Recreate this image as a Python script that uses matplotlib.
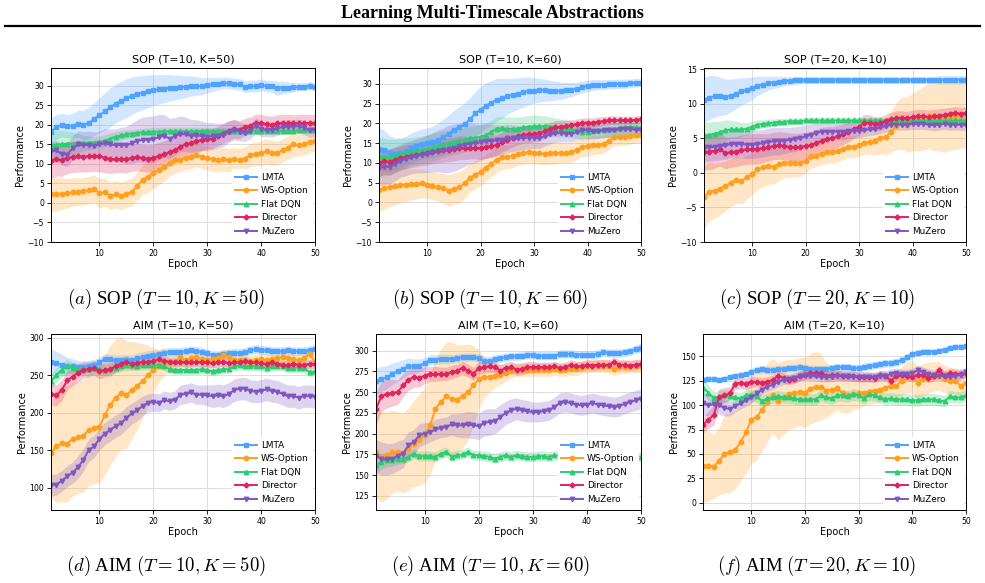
import numpy as np
import matplotlib
matplotlib.use("Agg")
import matplotlib.pyplot as plt
from matplotlib.lines import Line2D

plt.rcParams['mathtext.fontset'] = 'cm'

epochs = np.arange(1, 51)
methods = ["LMTA", "WS-Option", "Flat DQN", "Director", "MuZero"]
colors = ["#4da3ff", "#ff9f1c", "#2ecc71", "#e0245e", "#7e57c2"]
markers = ["s", "o", "^", "P", "v"]

# ---- SOP (T=10, K=50)
a_lmta = [18.3, 19.5, 20.0, 19.7, 19.8, 20.3, 20.0, 20.5, 21.5, 22.5,
          23.5, 24.5, 25.5, 26.2, 26.8, 27.5, 28.0, 28.3, 28.6, 28.9,
          29.1, 29.3, 29.5, 29.6, 29.7, 29.8, 30.0, 30.0, 29.9, 30.2,
          30.4, 30.6, 30.8, 30.7, 30.5, 30.4, 29.8, 30.0, 30.0, 30.3,
          30.0, 29.9, 29.4, 29.6, 29.6, 29.7, 29.8, 29.8, 30.1, 29.8]
a_lmta_sd = [3.5, 3.2, 3.0, 3.0, 3.2, 3.5, 3.8, 4.0, 4.3, 4.5,
             4.8, 5.0, 5.0, 5.0, 5.0, 4.8, 4.6, 4.4, 4.2, 4.0,
             3.8, 3.6, 3.4, 3.2, 3.0, 2.8, 2.6, 2.4, 2.2, 2.0,
             1.8, 1.6, 1.5, 1.5, 1.5, 1.5, 1.5, 1.5, 1.5, 1.5,
             1.5, 1.6, 1.8, 1.6, 1.4, 1.2, 1.0, 1.0, 1.0, 1.0]
a_ws = [2.2, 2.3, 2.4, 2.5, 2.8, 2.9, 3.0, 3.3, 3.7, 2.5,
        2.8, 1.8, 2.2, 1.8, 2.4, 2.8, 4.3, 6.0, 6.6, 7.8,
        8.4, 9.2, 10.3, 10.9, 11.0, 11.6, 11.8, 12.2, 11.8, 11.5,
        11.2, 11.0, 11.2, 11.0, 11.2, 11.0, 11.4, 12.3, 12.6, 12.7,
        13.2, 12.8, 12.8, 13.5, 14.2, 15.0, 14.8, 15.2, 15.7, 16.0]
a_ws_sd = [4.5, 4.3, 4.0, 3.8, 3.6, 3.5, 3.5, 3.5, 3.5, 3.8,
           3.6, 3.5, 3.5, 3.5, 3.5, 3.5, 3.6, 3.8, 4.0, 4.0,
           3.8, 3.6, 3.4, 3.2, 3.0, 3.0, 3.0, 3.0, 3.0, 3.0,
           3.0, 3.0, 3.0, 3.0, 3.0, 3.0, 3.0, 3.0, 3.0, 3.2,
           3.2, 3.2, 3.0, 3.0, 3.0, 3.0, 2.8, 2.8, 2.8, 2.8]
a_dqn = [14.6, 14.9, 15.1, 15.2, 15.2, 15.3, 15.4, 15.4, 15.5, 15.7,
         16.0, 16.5, 17.0, 17.3, 17.6, 17.8, 18.0, 18.1, 18.2, 18.3,
         18.3, 18.4, 18.4, 18.4, 18.4, 18.4, 18.4, 18.4, 18.4, 18.4,
         18.4, 18.4, 18.4, 18.4, 18.5, 18.5, 18.5, 18.5, 18.5, 18.5,
         18.5, 18.5, 18.5, 18.5, 18.5, 18.5, 18.6, 18.6, 18.6, 18.6]
a_dqn_sd = [3.5, 3.5, 3.5, 3.2, 3.0, 2.5, 2.0, 1.8, 1.5, 1.5,
            1.5, 1.4, 1.3, 1.2, 1.1, 1.0, 1.0, 1.0, 1.0, 1.0,
            1.0, 1.0, 1.0, 1.0, 1.0, 1.0, 1.0, 1.0, 1.0, 1.0,
            0.9, 0.9, 0.9, 0.9, 0.9, 0.9, 0.9, 0.9, 0.9, 0.9,
            0.8, 0.8, 0.8, 0.8, 0.8, 0.8, 0.8, 0.8, 0.8, 0.8]
a_dir = [10.8, 11.2, 11.0, 11.5, 11.8, 12.0, 11.9, 12.0, 12.1, 12.0,
         11.6, 11.2, 11.2, 11.3, 11.2, 11.6, 11.8, 11.5, 11.4, 11.6,
         12.0, 12.5, 13.0, 13.5, 14.4, 15.0, 15.4, 15.8, 16.2, 16.5,
         16.5, 17.2, 17.8, 18.5, 19.0, 18.8, 19.5, 19.8, 20.6, 20.5,
         20.2, 20.0, 20.4, 20.5, 20.5, 20.4, 20.5, 20.5, 20.5, 20.6]
a_dir_sd = [4.5, 4.3, 4.2, 4.0, 4.0, 4.0, 4.0, 4.0, 4.0, 4.0,
            3.8, 3.6, 3.5, 3.5, 3.5, 3.5, 3.5, 3.5, 3.5, 3.5,
            3.5, 3.5, 3.4, 3.3, 3.2, 3.0, 3.0, 3.0, 2.8, 2.6,
            2.5, 2.5, 2.5, 2.5, 2.4, 2.3, 2.2, 2.2, 2.2, 2.2,
            2.2, 2.2, 2.2, 2.2, 2.2, 2.2, 2.2, 2.2, 2.2, 2.2]
a_muz = [13.2, 13.5, 12.5, 12.4, 14.0, 15.0, 14.8, 14.9, 14.7, 15.0,
         15.3, 15.0, 14.8, 14.9, 14.8, 15.3, 15.9, 16.2, 16.2, 16.3,
         16.9, 17.2, 16.5, 17.1, 17.7, 17.6, 17.2, 17.3, 17.2, 17.0,
         17.2, 17.2, 17.5, 18.3, 18.8, 18.3, 18.0, 18.5, 19.8, 19.0,
         18.8, 18.7, 19.1, 19.5, 19.5, 19.6, 19.7, 19.3, 18.6, 18.8]
a_muz_sd = [2.5, 2.5, 2.8, 3.0, 3.2, 3.5, 3.5, 3.5, 3.5, 3.5,
            3.8, 4.0, 4.2, 4.5, 4.8, 5.2, 5.5, 5.8, 6.0, 6.0,
            5.8, 5.5, 5.2, 4.8, 4.6, 4.4, 4.2, 4.0, 3.8, 3.6,
            3.4, 3.2, 3.0, 2.8, 2.6, 2.4, 2.2, 2.0, 2.0, 2.0,
            1.8, 1.8, 1.8, 1.8, 1.8, 1.8, 1.8, 1.8, 1.8, 1.8]

# ---- SOP (T=10, K=60)
b_lmta = [13.5, 13.2, 12.4, 12.3, 12.5, 13.0, 13.8, 14.3, 14.8, 15.0,
          15.3, 15.8, 16.5, 17.3, 18.3, 19.0, 19.8, 21.0, 22.5, 23.5,
          24.5, 25.2, 26.0, 26.3, 26.8, 27.2, 27.5, 27.9, 28.2, 28.3,
          28.4, 28.4, 28.3, 28.3, 28.2, 28.4, 28.5, 28.8, 29.2, 29.5,
          29.7, 29.8, 29.8, 29.9, 29.9, 30.0, 30.0, 30.1, 30.3, 30.3]
b_lmta_sd = [5.5, 5.0, 4.5, 4.0, 3.8, 3.8, 3.8, 3.8, 3.8, 3.8,
             4.0, 4.2, 4.5, 4.8, 5.0, 5.2, 5.5, 5.5, 5.6, 5.8,
             5.8, 5.6, 5.4, 5.0, 4.6, 4.2, 4.0, 3.8, 3.5, 3.2,
             3.0, 2.8, 2.6, 2.4, 2.2, 2.0, 1.8, 1.6, 1.5, 1.5,
             1.4, 1.3, 1.3, 1.2, 1.2, 1.2, 1.2, 1.1, 1.1, 1.0]
b_ws = [3.2, 3.6, 3.9, 4.2, 4.4, 4.5, 4.6, 4.7, 4.9, 4.5,
        4.2, 3.9, 3.6, 3.0, 3.5, 3.8, 4.8, 6.2, 7.0, 7.8,
        8.8, 9.8, 10.8, 11.4, 11.5, 11.8, 12.2, 12.4, 12.8, 12.5,
        12.4, 12.3, 12.4, 12.5, 12.6, 12.5, 12.7, 13.3, 14.0, 14.2,
        14.5, 14.5, 14.8, 15.6, 16.5, 16.6, 16.6, 16.8, 17.0, 17.1]
b_ws_sd = [5.5, 5.3, 5.0, 4.8, 4.5, 4.3, 4.0, 3.8, 3.6, 3.5,
           3.5, 3.6, 3.8, 4.0, 4.0, 4.0, 3.8, 3.6, 3.5, 3.5,
           3.4, 3.3, 3.2, 3.0, 3.0, 3.0, 2.8, 2.8, 2.8, 2.8,
           2.8, 2.8, 2.8, 2.8, 2.6, 2.6, 2.5, 2.5, 2.4, 2.4,
           2.4, 2.3, 2.3, 2.2, 2.2, 2.2, 2.1, 2.0, 2.0, 2.0]
b_dqn = [11.5, 11.5, 11.5, 11.8, 12.2, 12.5, 12.8, 13.1, 13.3, 13.5,
         14.0, 14.3, 14.8, 15.0, 15.4, 15.5, 15.8, 16.2, 16.4, 16.6,
         17.0, 17.8, 18.7, 18.8, 18.6, 18.6, 18.7, 19.0, 19.2, 19.3,
         19.3, 19.3, 19.2, 19.0, 18.8, 18.7, 18.5, 18.2, 17.8, 17.9,
         18.0, 18.2, 18.3, 18.5, 18.6, 18.8, 19.0, 19.1, 19.0, 18.9]
b_dqn_sd = [5.0, 4.8, 4.5, 4.2, 4.0, 3.8, 3.6, 3.5, 3.5, 3.5,
            3.5, 3.5, 3.4, 3.3, 3.2, 3.2, 3.1, 3.0, 3.0, 3.0,
            3.0, 3.0, 3.0, 3.0, 3.0, 3.0, 2.9, 2.8, 2.8, 2.8,
            2.7, 2.6, 2.5, 2.4, 2.3, 2.2, 2.1, 2.0, 2.0, 2.0,
            2.0, 2.0, 1.9, 1.9, 1.9, 1.8, 1.8, 1.8, 1.8, 1.8]
b_dir = [10.0, 10.5, 10.2, 10.7, 11.2, 11.6, 11.8, 12.0, 12.3, 12.5,
         12.8, 13.0, 13.2, 13.3, 13.5, 13.8, 13.8, 13.8, 13.8, 13.7,
         14.0, 14.3, 14.5, 15.3, 15.8, 16.3, 16.8, 17.1, 17.2, 17.4,
         17.5, 18.0, 18.5, 19.0, 19.2, 19.3, 19.5, 19.8, 20.2, 20.2,
         20.2, 20.4, 20.6, 20.8, 20.8, 20.8, 20.8, 20.8, 20.9, 21.0]
b_dir_sd = [3.5, 3.4, 3.3, 3.2, 3.0, 3.0, 3.0, 3.0, 3.0, 3.0,
            3.0, 3.0, 3.0, 3.0, 3.0, 3.0, 3.0, 2.8, 2.8, 2.8,
            2.8, 2.7, 2.6, 2.5, 2.4, 2.3, 2.2, 2.1, 2.0, 2.0,
            2.0, 1.9, 1.8, 1.7, 1.6, 1.5, 1.4, 1.3, 1.2, 1.2,
            1.2, 1.2, 1.1, 1.1, 1.1, 1.0, 1.0, 1.0, 1.0, 1.0]
b_muz = [8.8, 9.0, 9.0, 9.8, 10.5, 11.0, 11.4, 11.8, 12.0, 12.3,
         12.7, 13.0, 13.2, 13.5, 13.8, 14.2, 14.6, 14.9, 15.0, 15.2,
         15.5, 15.6, 15.7, 15.8, 16.2, 16.2, 16.3, 16.3, 16.4, 16.4,
         16.2, 16.8, 17.2, 17.5, 17.5, 17.4, 17.3, 17.8, 18.3, 18.3,
         18.0, 18.0, 18.2, 18.2, 18.3, 18.5, 18.7, 18.6, 18.4, 18.3]
b_muz_sd = [4.5, 4.5, 4.4, 4.3, 4.2, 4.2, 4.2, 4.3, 4.5, 4.7,
            5.0, 5.3, 5.6, 6.0, 6.0, 5.8, 5.5, 5.2, 4.9, 4.6,
            4.4, 4.2, 4.0, 3.8, 3.6, 3.4, 3.2, 3.0, 2.8, 2.7,
            2.6, 2.5, 2.4, 2.3, 2.2, 2.1, 2.0, 2.0, 2.0, 2.0,
            1.8, 1.8, 1.8, 1.8, 1.8, 1.8, 1.8, 1.8, 1.8, 1.8]

# ---- SOP (T=20, K=10)
c_lmta = [10.6, 10.9, 11.1, 11.1, 11.0, 11.2, 11.5, 11.8, 12.0, 12.3,
          12.6, 12.8, 13.0, 13.1, 13.2, 13.3, 13.35, 13.4, 13.45, 13.45,
          13.45, 13.45, 13.45, 13.45, 13.45, 13.45, 13.45, 13.45, 13.45, 13.45,
          13.45, 13.45, 13.45, 13.45, 13.45, 13.45, 13.45, 13.45, 13.45, 13.45,
          13.45, 13.45, 13.45, 13.45, 13.5, 13.5, 13.5, 13.5, 13.5, 13.5]
c_lmta_sd = [3.3, 3.2, 3.0, 2.8, 2.6, 2.4, 2.2, 2.0, 1.8, 1.6,
             1.4, 1.2, 1.0, 0.9, 0.8, 0.7, 0.6, 0.6, 0.5, 0.5,
             0.5, 0.5, 0.5, 0.5, 0.5, 0.5, 0.5, 0.5, 0.5, 0.5,
             0.5, 0.5, 0.5, 0.5, 0.5, 0.5, 0.5, 0.5, 0.5, 0.5,
             0.5, 0.5, 0.5, 0.5, 0.6, 0.6, 0.6, 0.6, 0.6, 0.6]
c_ws = [-3.5, -2.7, -2.6, -2.3, -1.9, -1.4, -1.0, -1.2, -0.6, -0.2,
        0.6, 0.8, 1.0, 0.9, 1.3, 1.5, 1.5, 1.5, 1.4, 1.8,
        2.4, 2.5, 2.8, 3.0, 3.0, 3.2, 3.5, 3.8, 3.8, 4.0,
        4.4, 4.5, 4.6, 5.1, 5.2, 6.0, 6.8, 7.2, 7.0, 7.4,
        7.6, 7.9, 8.3, 8.2, 8.2, 8.0, 8.2, 8.3, 8.4, 8.2]
c_ws_sd = [4.5, 4.2, 4.0, 3.8, 3.6, 3.5, 3.4, 3.3, 3.2, 3.0,
           3.0, 2.8, 2.6, 2.5, 2.4, 2.2, 2.1, 2.0, 1.9, 1.8,
           1.7, 1.6, 1.6, 1.6, 1.6, 1.6, 1.6, 1.6, 1.6, 1.6,
           1.7, 1.8, 2.0, 2.3, 2.6, 3.0, 3.4, 3.8, 4.0, 4.2,
           4.4, 4.6, 4.8, 5.0, 5.0, 5.0, 4.9, 4.9, 4.8, 4.7]
c_dqn = [5.3, 5.5, 5.7, 5.9, 6.2, 6.3, 6.3, 6.3, 6.4, 6.7,
         7.0, 7.1, 7.2, 7.3, 7.4, 7.4, 7.5, 7.5, 7.5, 7.6,
         7.6, 7.6, 7.6, 7.6, 7.6, 7.6, 7.6, 7.6, 7.6, 7.6,
         7.6, 7.6, 7.6, 7.6, 7.6, 7.6, 7.6, 7.6, 7.6, 7.6,
         7.6, 7.6, 7.6, 7.6, 7.6, 7.6, 7.6, 7.6, 7.6, 7.6]
c_dqn_sd = [2.0, 1.9, 1.8, 1.6, 1.5, 1.3, 1.2, 1.0, 0.9, 0.8,
            0.7, 0.6, 0.6, 0.5, 0.5, 0.5, 0.5, 0.5, 0.5, 0.5,
            0.5, 0.5, 0.5, 0.5, 0.5, 0.5, 0.5, 0.5, 0.5, 0.5,
            0.4, 0.4, 0.4, 0.4, 0.4, 0.4, 0.4, 0.4, 0.4, 0.4,
            0.4, 0.4, 0.4, 0.4, 0.4, 0.4, 0.4, 0.4, 0.4, 0.4]
c_dir = [3.1, 3.1, 3.2, 3.4, 2.9, 3.0, 3.1, 3.3, 3.4, 3.5,
         3.5, 3.6, 3.7, 3.9, 4.0, 3.9, 3.8, 3.7, 3.8, 3.9,
         4.0, 4.3, 4.7, 4.9, 5.0, 5.3, 5.6, 5.9, 6.3, 6.7,
         7.3, 7.3, 7.1, 7.2, 7.5, 7.8, 8.0, 8.0, 7.9, 8.1,
         8.2, 8.2, 8.1, 8.2, 8.3, 8.4, 8.6, 8.7, 8.6, 8.7]
c_dir_sd = [2.7, 2.6, 2.5, 2.4, 2.3, 2.2, 2.2, 2.2, 2.2, 2.2,
            2.2, 2.1, 2.0, 2.0, 2.0, 2.0, 2.0, 2.0, 2.0, 2.0,
            2.0, 2.0, 1.9, 1.8, 1.7, 1.6, 1.5, 1.4, 1.3, 1.2,
            1.2, 1.1, 1.0, 1.0, 1.0, 1.0, 1.0, 1.0, 1.0, 1.0,
            1.0, 1.0, 1.0, 1.0, 1.0, 1.0, 0.9, 0.9, 0.9, 0.9]
c_muz = [3.7, 3.7, 3.8, 3.9, 4.0, 4.2, 4.2, 4.2, 4.1, 4.1,
         4.2, 4.3, 4.5, 4.6, 4.6, 4.7, 4.8, 4.9, 5.1, 5.3,
         5.5, 5.8, 6.0, 6.0, 6.0, 6.0, 6.0, 6.1, 6.1, 6.1,
         6.2, 6.3, 6.4, 6.6, 6.8, 7.0, 7.0, 7.0, 7.0, 7.1,
         7.1, 7.1, 7.0, 6.9, 7.0, 7.1, 7.0, 7.0, 7.0, 6.9]
c_muz_sd = [2.0, 2.0, 2.0, 2.0, 2.0, 2.0, 2.0, 2.0, 2.0, 2.0,
            2.0, 2.0, 2.0, 2.0, 2.0, 1.9, 1.8, 1.8, 1.7, 1.7,
            1.6, 1.5, 1.5, 1.4, 1.3, 1.2, 1.2, 1.1, 1.0, 1.0,
            0.9, 0.9, 0.9, 0.9, 0.9, 0.9, 0.8, 0.8, 0.8, 0.8,
            0.8, 0.8, 0.8, 0.8, 0.8, 0.8, 0.8, 0.8, 0.8, 0.8]

# ---- AIM (T=10, K=50)
d_lmta = [268, 266, 264, 262, 262, 261, 261, 262, 263, 267,
          272, 271, 270, 270, 270, 270, 273, 274, 276, 277,
          278, 280, 281, 281, 281, 282, 283, 282, 281, 279,
          277, 277, 278, 279, 280, 280, 281, 283, 285, 284,
          283, 282, 282, 282, 283, 282, 282, 282, 283, 285]
d_lmta_sd = [18, 16, 14, 12, 10, 9, 8, 8, 8, 8,
             7, 7, 7, 7, 7, 7, 7, 7, 7, 7,
             6, 6, 6, 6, 6, 6, 6, 6, 6, 6,
             6, 6, 6, 6, 6, 6, 6, 6, 6, 6,
             6, 6, 6, 6, 6, 6, 6, 6, 6, 6]
d_ws = [146, 155, 159, 158, 165, 167, 169, 177, 180, 181,
        197, 210, 220, 226, 224, 230, 236, 242, 250, 257,
        262, 268, 268, 267, 274, 270, 273, 274, 272, 270,
        271, 273, 277, 274, 270, 270, 270, 268, 270, 271,
        270, 271, 273, 274, 273, 271, 270, 273, 278, 268]
d_ws_sd = [60, 75, 78, 78, 76, 75, 75, 75, 75, 75,
           80, 80, 78, 75, 72, 65, 58, 50, 40, 30,
           22, 18, 15, 12, 10, 10, 10, 9, 9, 9,
           8, 8, 8, 8, 8, 8, 8, 8, 8, 8,
           8, 8, 8, 8, 8, 8, 8, 8, 8, 8]
d_dqn = [242, 250, 257, 262, 260, 258, 257, 258, 260, 258,
         257, 258, 260, 262, 263, 263, 262, 263, 263, 263,
         264, 262, 258, 257, 257, 257, 257, 257, 258, 257,
         255, 257, 258, 258, 262, 263, 262, 262, 262, 262,
         259, 262, 262, 262, 259, 260, 260, 259, 254, 255]
d_dqn_sd = [10, 10, 10, 9, 8, 8, 8, 8, 8, 8,
            7, 7, 7, 7, 7, 6, 6, 6, 6, 6,
            6, 6, 6, 6, 6, 6, 6, 6, 6, 6,
            6, 6, 6, 6, 6, 6, 6, 6, 6, 6,
            6, 6, 6, 6, 6, 6, 6, 6, 6, 6]
d_dir = [225, 223, 230, 243, 248, 253, 257, 258, 260, 255,
         257, 258, 262, 265, 268, 265, 266, 268, 268, 269,
         271, 269, 268, 268, 268, 267, 267, 268, 267, 267,
         266, 267, 268, 266, 267, 267, 269, 267, 267, 266,
         265, 267, 265, 264, 263, 265, 264, 264, 265, 265]
d_dir_sd = [15, 14, 14, 13, 12, 12, 11, 10, 10, 10,
            9, 9, 8, 8, 8, 8, 8, 7, 7, 7,
            6, 6, 6, 6, 6, 6, 6, 6, 6, 6,
            6, 6, 6, 6, 6, 6, 6, 6, 6, 6,
            6, 6, 6, 6, 6, 6, 6, 6, 6, 6]
d_muz = [103, 104, 109, 115, 120, 127, 137, 150, 155, 165,
         172, 177, 182, 186, 193, 199, 203, 209, 213, 214,
         213, 217, 215, 217, 224, 225, 227, 224, 224, 223,
         222, 223, 222, 225, 230, 232, 232, 229, 228, 229,
         231, 229, 228, 225, 222, 222, 220, 222, 222, 221]
d_muz_sd = [15, 14, 14, 14, 14, 15, 15, 15, 15, 15,
            15, 15, 15, 15, 15, 14, 14, 13, 12, 12,
            12, 12, 12, 12, 13, 13, 13, 13, 13, 14,
            15, 15, 15, 15, 15, 15, 15, 15, 15, 15,
            15, 15, 15, 15, 15, 15, 15, 15, 15, 15]

# ---- AIM (T=10, K=60)
e_lmta = [263, 266, 268, 272, 275, 278, 281, 281, 282, 285,
          289, 289, 290, 290, 290, 291, 292, 292, 292, 291,
          288, 288, 290, 291, 292, 293, 293, 294, 295, 295,
          294, 294, 294, 294, 296, 296, 296, 295, 295, 295,
          295, 296, 298, 297, 297, 297, 298, 299, 302, 303]
e_lmta_sd = [16, 15, 14, 13, 12, 11, 10, 9, 8, 7,
             6, 6, 6, 6, 5, 5, 5, 5, 5, 5,
             5, 5, 5, 5, 5, 5, 5, 5, 5, 5,
             5, 5, 5, 5, 5, 5, 5, 5, 5, 5,
             5, 5, 5, 5, 5, 5, 5, 5, 5, 6]
e_ws = [178, 172, 174, 178, 178, 177, 181, 188, 192, 198,
        210, 230, 238, 245, 242, 241, 245, 250, 258, 266,
        268, 268, 270, 271, 273, 276, 277, 277, 277, 277,
        277, 277, 277, 278, 277, 277, 278, 278, 280, 281,
        282, 282, 282, 281, 278, 280, 280, 281, 281, 281]
e_ws_sd = [55, 55, 52, 50, 48, 48, 50, 52, 55, 57,
           60, 62, 64, 66, 68, 66, 62, 58, 48, 35,
           25, 18, 14, 12, 10, 9, 8, 8, 8, 8,
           8, 8, 8, 8, 8, 8, 8, 8, 8, 8,
           8, 8, 8, 8, 8, 8, 8, 8, 8, 8]
e_dqn = [162, 166, 168, 168, 170, 170, 172, 176, 173, 173,
         173, 172, 176, 178, 172, 174, 175, 178, 174, 174,
         173, 172, 170, 172, 174, 172, 174, 173, 172, 172,
         173, 173, 172, 174, 173, 176, 173, 173, 173, 173,
         174, 175, 173, 173, 174, 173, 174, 172, 172, 172]
e_dqn_sd = [10, 9, 8, 7, 7, 6, 6, 6, 6, 6,
            6, 6, 6, 6, 6, 6, 6, 6, 6, 6,
            6, 6, 6, 6, 6, 6, 6, 6, 6, 6,
            6, 6, 6, 6, 6, 6, 6, 6, 6, 6,
            6, 6, 6, 6, 6, 6, 6, 6, 6, 6]
e_dir = [230, 245, 248, 249, 250, 258, 265, 268, 267, 270,
         272, 272, 272, 272, 274, 276, 279, 276, 272, 279,
         280, 281, 280, 276, 279, 280, 277, 278, 280, 280,
         280, 280, 280, 281, 279, 280, 283, 281, 281, 283,
         282, 283, 283, 283, 286, 283, 283, 282, 283, 284]
e_dir_sd = [20, 18, 17, 16, 15, 14, 13, 12, 11, 10,
            9, 9, 8, 8, 8, 8, 8, 8, 8, 8,
            7, 7, 7, 7, 7, 7, 7, 7, 7, 7,
            6, 6, 6, 6, 6, 6, 6, 6, 6, 6,
            6, 6, 6, 6, 6, 6, 6, 6, 6, 6]
e_muz = [173, 170, 169, 170, 173, 176, 186, 190, 198, 200,
         202, 205, 207, 208, 211, 210, 210, 211, 210, 209,
         213, 214, 215, 220, 225, 228, 230, 228, 227, 226,
         226, 227, 228, 232, 237, 238, 237, 235, 234, 235,
         237, 235, 234, 233, 232, 233, 236, 238, 240, 242]
e_muz_sd = [20, 20, 19, 18, 18, 17, 16, 15, 14, 13,
            12, 12, 12, 12, 13, 14, 15, 16, 16, 16,
            16, 16, 15, 15, 14, 14, 13, 13, 13, 12,
            12, 12, 12, 12, 12, 12, 12, 12, 12, 12,
            12, 12, 12, 12, 12, 12, 12, 12, 12, 12]

# ---- AIM (T=20, K=10)
f_lmta = [126, 127, 127, 126, 127, 129, 130, 131, 132, 134,
          136, 137, 136, 136, 137, 137, 138, 138, 139, 138,
          137, 137, 137, 137, 138, 139, 139, 139, 138, 138,
          139, 140, 141, 142, 143, 143, 144, 146, 149, 152,
          154, 155, 155, 155, 156, 157, 159, 160, 160, 161]
f_lmta_sd = [3, 3, 3, 3, 3, 3, 3, 3, 3, 4,
             4, 4, 4, 4, 4, 4, 4, 4, 4, 4,
             4, 4, 4, 4, 4, 4, 4, 4, 4, 4,
             4, 4, 4, 4, 4, 4, 4, 4, 4, 4,
             3, 3, 3, 3, 3, 3, 3, 3, 3, 3]
f_ws = [38, 38, 37, 43, 50, 52, 54, 62, 72, 85,
        88, 95, 103, 110, 104, 108, 111, 112, 114, 113,
        117, 119, 119, 115, 116, 118, 112, 110, 111, 112,
        113, 114, 115, 116, 118, 120, 120, 125, 129, 129,
        123, 127, 128, 130, 130, 127, 125, 125, 120, 123]
f_ws_sd = [38, 36, 33, 35, 40, 42, 40, 40, 42, 45,
           44, 42, 40, 38, 40, 38, 36, 35, 35, 36,
           36, 36, 34, 28, 25, 23, 20, 18, 16, 15,
           14, 13, 13, 13, 13, 13, 14, 15, 16, 17,
           17, 16, 16, 15, 15, 14, 14, 13, 13, 13]
f_dqn = [118, 113, 107, 108, 110, 109, 108, 107, 110, 110,
         109, 104, 107, 108, 109, 108, 108, 107, 106, 106,
         106, 106, 110, 108, 107, 110, 110, 109, 111, 110,
         107, 111, 110, 108, 106, 107, 106, 106, 106, 105,
         105, 106, 106, 106, 105, 104, 109, 108, 108, 110]
f_dqn_sd = [8, 8, 7, 7, 6, 6, 6, 6, 6, 6,
            6, 6, 6, 6, 6, 6, 6, 6, 6, 6,
            6, 6, 6, 6, 6, 6, 6, 6, 6, 6,
            6, 6, 6, 6, 6, 6, 6, 6, 6, 6,
            6, 6, 6, 6, 6, 6, 6, 6, 6, 6]
f_dir = [80, 85, 90, 108, 110, 112, 122, 123, 122, 124,
         124, 123, 124, 126, 130, 128, 126, 127, 130, 131,
         133, 133, 133, 130, 131, 131, 130, 130, 130, 129,
         129, 129, 128, 131, 130, 125, 130, 131, 130, 129,
         131, 131, 128, 130, 136, 130, 133, 132, 132, 133]
f_dir_sd = [8, 9, 10, 9, 8, 7, 6, 6, 6, 6,
            5, 5, 5, 5, 5, 5, 5, 5, 5, 5,
            5, 5, 5, 5, 5, 5, 5, 5, 5, 5,
            5, 5, 5, 5, 5, 5, 5, 5, 5, 5,
            5, 5, 5, 5, 5, 5, 5, 5, 5, 5]
f_muz = [102, 100, 101, 100, 97, 96, 99, 102, 105, 108,
         112, 116, 119, 121, 124, 126, 127, 128, 130, 131,
         130, 130, 129, 129, 129, 130, 130, 130, 129, 129,
         129, 129, 129, 130, 130, 132, 133, 132, 132, 133,
         136, 134, 132, 131, 130, 130, 129, 130, 131, 134]
f_muz_sd = [12, 11, 10, 9, 8, 7, 6, 6, 6, 6,
            5, 5, 5, 5, 5, 5, 5, 5, 5, 5,
            5, 5, 5, 5, 5, 5, 5, 5, 5, 5,
            5, 5, 5, 5, 5, 5, 5, 5, 5, 5,
            5, 5, 5, 5, 5, 5, 5, 5, 5, 5]

titles = ["SOP (T=10, K=50)", "SOP (T=10, K=60)", "SOP (T=20, K=10)",
          "AIM (T=10, K=50)", "AIM (T=10, K=60)", "AIM (T=20, K=10)"]
captions = [r"$\mathit{(a)}$ SOP $(T = 10, K = 50)$",
            r"$\mathit{(b)}$ SOP $(T = 10, K = 60)$",
            r"$\mathit{(c)}$ SOP $(T = 20, K = 10)$",
            r"$\mathit{(d)}$ AIM $(T = 10, K = 50)$",
            r"$\mathit{(e)}$ AIM $(T = 10, K = 60)$",
            r"$\mathit{(f)}$ AIM $(T = 20, K = 10)$"]
means = [[a_lmta, a_ws, a_dqn, a_dir, a_muz],
         [b_lmta, b_ws, b_dqn, b_dir, b_muz],
         [c_lmta, c_ws, c_dqn, c_dir, c_muz],
         [d_lmta, d_ws, d_dqn, d_dir, d_muz],
         [e_lmta, e_ws, e_dqn, e_dir, e_muz],
         [f_lmta, f_ws, f_dqn, f_dir, f_muz]]
stds = [[a_lmta_sd, a_ws_sd, a_dqn_sd, a_dir_sd, a_muz_sd],
        [b_lmta_sd, b_ws_sd, b_dqn_sd, b_dir_sd, b_muz_sd],
        [c_lmta_sd, c_ws_sd, c_dqn_sd, c_dir_sd, c_muz_sd],
        [d_lmta_sd, d_ws_sd, d_dqn_sd, d_dir_sd, d_muz_sd],
        [e_lmta_sd, e_ws_sd, e_dqn_sd, e_dir_sd, e_muz_sd],
        [f_lmta_sd, f_ws_sd, f_dqn_sd, f_dir_sd, f_muz_sd]]
ylims = [(-10, 34.6), (-10, 34), (-10, 15.2), (70, 305), (108, 320), (-7.5, 173)]
yticks = [np.arange(-10, 31, 5), np.arange(-10, 31, 5), np.arange(-10, 16, 5),
          np.arange(100, 301, 50), np.arange(125, 301, 25), np.arange(0, 151, 25)]

W, H = 985, 583
# axes boxes in pixels: left, top, right, bottom
boxes = [(51, 68, 315, 242), (379, 68, 641, 242), (704, 68, 966, 242),
         (51, 334, 315, 510), (376, 334, 641, 510), (703, 334, 966, 510)]
cap_pos = [(166, 299), (490, 299), (817, 299), (166, 566), (490, 566), (817, 566)]

fig = plt.figure(figsize=(W / 100, H / 100), dpi=100)

fig.text(0.5, 1 - 14 / H, "Learning Multi-Timescale Abstractions", ha="center", va="center",
         family="Liberation Serif", weight="bold", fontsize=13)
fig.add_artist(Line2D([5 / W, 980 / W], [1 - 26 / H, 1 - 26 / H], color="black", lw=1.6))

for i in range(6):
    l, t, r, b = boxes[i]
    ax = fig.add_axes([l / W, 1 - b / H, (r - l) / W, (b - t) / H])
    for j in range(5):
        m = np.array(means[i][j], dtype=float)
        s = np.array(stds[i][j], dtype=float)
        ax.plot(epochs, m, color=colors[j], marker=markers[j], markersize=3.2,
                lw=1.4, label=methods[j])
        ax.fill_between(epochs, m - s, m + s, color=colors[j], alpha=0.25, lw=0)
    ax.set_xlim(1, 50)
    ax.set_ylim(*ylims[i])
    ax.set_xticks([10, 20, 30, 40, 50])
    ax.set_yticks(yticks[i])
    ax.tick_params(labelsize=5.6, length=3, width=0.6, pad=2)
    ax.grid(True, color="#dddddd", lw=0.7)
    ax.set_axisbelow(True)
    ax.set_title(titles[i], fontsize=8, pad=4)
    ax.set_xlabel("Epoch", fontsize=7, labelpad=1)
    ax.set_ylabel("Performance", fontsize=7, labelpad=2)
    for sp in ax.spines.values():
        sp.set_linewidth(0.7)
    ax.legend(loc="lower right", fontsize=6.4, frameon=True, framealpha=1,
              edgecolor="white", handlelength=2.4, handletextpad=0.5,
              borderaxespad=0.3)
    cx, cy = cap_pos[i]
    fig.text(cx / W, 1 - cy / H, captions[i], ha="center", va="center",
             family="Liberation Serif", fontsize=13.5)

fig.savefig("out.png", dpi=100)
